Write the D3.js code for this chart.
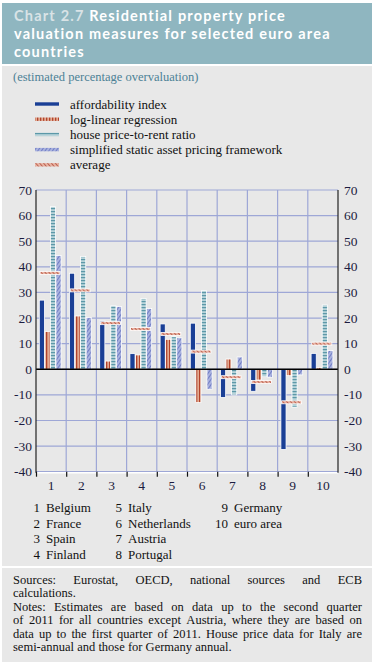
<!DOCTYPE html>
<html>
<head>
<meta charset="utf-8">
<script src="https://cdn.jsdelivr.net/npm/d3@7"></script>
<style>
  body { margin: 0; background: #fff; }
  svg text { font-family: "Liberation Serif", "Times New Roman", serif; }
  .title { font-family: Lato, "Open Sans", sans-serif !important; font-weight: bold; font-size: 14.5px; fill: #fff; letter-spacing: 1.2px; }
</style>
</head>
<body>
<div id="main"></div>
<script>
// data
const groups = ["1", "2", "3", "4", "5", "6", "7", "8", "9", "10"];
const countries = ["Belgium", "France", "Spain", "Finland", "Italy", "Netherlands", "Austria", "Portugal", "Germany", "euro area"];
const affordability = [27, 37.5, 19, 6.1, 17.7, 18, -11, -8.6, -31.3, 6.2];
const logLinear = [14.7, 20.8, 3.2, 5.6, 11.7, -13, 4.0, -4.2, -2.5, 0.7];
const priceToRent = [63.5, 44, 24.8, 27.6, 12.7, 30.7, -10, -2.9, -14.8, 25.1];
const assetPricing = [44.4, 20.2, 24.5, 23.7, 12.3, -7.8, 4.8, -3.1, -2.2, 7.3];
const average = [37.6, 30.8, 18, 15.7, 13.8, 6.9, -3.1, -5, -12.9, 10];
const yTicks = [70, 60, 50, 40, 30, 20, 10, 0, -10, -20, -30, -40];
const seriesNames = ["affordability index", "log-linear regression", "house price-to-rent ratio",
    "simplified static asset pricing framework", "average"];

// dimensions
const svg_width = 374, svg_height = 667;
const plot = {left: 36, right: 338, top: 190, bottom: 471.7};

var svg = d3.select("#main").append("svg")
    .attr("width", svg_width)
    .attr("height", svg_height);

// panels
svg.append("rect").attr("x", 2).attr("y", 3).attr("width", 370).attr("height", 61).attr("fill", "#8fb6c0");
svg.append("rect").attr("x", 2).attr("y", 66).attr("width", 370).attr("height", 500).attr("fill", "#e8e8e8");
svg.append("rect").attr("x", 2).attr("y", 568).attr("width", 370).attr("height", 94).attr("fill", "#e8e8e8");

// title
var titleLines = [["Chart 2.7 ", "Residential property price"], ["", "valuation measures for selected euro area"], ["", "countries"]];
titleLines.forEach(function(l, i) {
    var t = svg.append("text").attr("class", "title").attr("x", 14).attr("y", 21 + i * 18);
    if (l[0]) t.append("tspan").attr("fill", "#d9e3e6").text(l[0]);
    t.append("tspan").text(l[1]);
});
svg.append("text").attr("x", 13).attr("y", 81)
    .attr("font-size", 12.5).attr("fill", "#4c8196")
    .text("(estimated percentage overvaluation)");

// patterns
var defs = svg.append("defs");
var pRed = defs.append("pattern").attr("id", "pRed").attr("patternUnits", "userSpaceOnUse")
    .attr("width", 3).attr("height", 3);
pRed.append("rect").attr("width", 3).attr("height", 3).attr("fill", "#e2aa92");
pRed.append("rect").attr("x", 1).attr("width", 1.3).attr("height", 3).attr("fill", "#b2432b");
var pTeal = defs.append("pattern").attr("id", "pTeal").attr("patternUnits", "userSpaceOnUse")
    .attr("width", 6).attr("height", 3);
pTeal.append("rect").attr("width", 6).attr("height", 3).attr("fill", "#b9d4da");
pTeal.append("rect").attr("y", 1).attr("width", 6).attr("height", 1.2).attr("fill", "#5c98a8");
var pPurple = defs.append("pattern").attr("id", "pPurple").attr("patternUnits", "userSpaceOnUse")
    .attr("width", 3).attr("height", 3).attr("patternTransform", "rotate(35)");
pPurple.append("rect").attr("width", 3).attr("height", 3).attr("fill", "#a9b2de");
pPurple.append("rect").attr("width", 0.9).attr("height", 3).attr("fill", "#6c78c4");
var pAvg = defs.append("pattern").attr("id", "pAvg").attr("patternUnits", "userSpaceOnUse")
    .attr("width", 3).attr("height", 3).attr("patternTransform", "rotate(-40)");
pAvg.append("rect").attr("width", 3).attr("height", 3).attr("fill", "#e8b4a4");
pAvg.append("rect").attr("width", 0.9).attr("height", 3).attr("fill", "#b95a48");

var fills = ["#1a3f96", "url(#pRed)", "url(#pTeal)", "url(#pPurple)", "url(#pAvg)"];

// scales
var xScale = d3.scaleBand().domain(groups).range([plot.left, plot.right]);
var subScale = d3.scaleBand().domain([0, 1, 2, 3]).range([3.3, 25.5]);
var yScale = d3.scaleLinear().domain([-40, 70]).range([plot.bottom, plot.top]);

// grid
var grid = svg.append("g").attr("stroke", "#9ea7d6").attr("stroke-width", 1.2);
grid.selectAll(".hg").data(yTicks).enter().append("line")
    .attr("x1", plot.left).attr("x2", plot.right)
    .attr("y1", d => yScale(d)).attr("y2", d => yScale(d));
grid.selectAll(".vg").data(groups.slice(1)).enter().append("line")
    .attr("x1", d => xScale(d)).attr("x2", d => xScale(d))
    .attr("y1", plot.top).attr("y2", plot.bottom);

// bars
var seriesData = [affordability, logLinear, priceToRent, assetPricing];
seriesData.forEach(function(vals, s) {
    svg.append("g").selectAll("rect").data(vals).enter().append("rect")
        .attr("x", (d, i) => xScale(groups[i]) + subScale(s))
        .attr("width", subScale.bandwidth() - 0.4)
        .attr("y", d => yScale(Math.max(0, d)))
        .attr("height", d => Math.abs(yScale(d) - yScale(0)))
        .attr("fill", fills[s])
        .attr("stroke", "#fff").attr("stroke-width", 0.8);
});

// zero line & axes
svg.append("line").attr("x1", plot.left).attr("x2", plot.right)
    .attr("y1", yScale(0)).attr("y2", yScale(0)).attr("stroke", "#000").attr("stroke-width", 1.6);
svg.append("line").attr("x1", plot.left).attr("x2", plot.right)
    .attr("y1", plot.bottom + 1).attr("y2", plot.bottom + 1).attr("stroke", "#fff").attr("stroke-width", 1.5);
[plot.left, plot.right].forEach(function(x) {
    svg.append("line").attr("x1", x).attr("x2", x).attr("y1", plot.top).attr("y2", plot.bottom + 1)
        .attr("stroke", "#222").attr("stroke-width", 1.2);
});
svg.append("g").selectAll("line").data(groups).enter().append("line")
    .attr("x1", d => xScale(d) + 0.5).attr("x2", d => xScale(d) + 0.5)
    .attr("y1", plot.bottom).attr("y2", plot.bottom + 5)
    .attr("stroke", "#111").attr("stroke-width", 1.2);

// average markers
svg.append("g").selectAll("rect").data(average).enter().append("rect")
    .attr("x", (d, i) => xScale(groups[i]) + 4)
    .attr("width", 20)
    .attr("y", d => yScale(d) - 1.5)
    .attr("height", 3)
    .attr("fill", "url(#pAvg)")
    .attr("stroke", "#fff").attr("stroke-width", 0.8);

// y labels
svg.append("g").selectAll("text").data(yTicks).enter().append("text")
    .attr("x", 32).attr("y", d => yScale(d) + 4.5)
    .attr("text-anchor", "end").attr("font-size", 13.5).attr("fill", "#1c1c40")
    .text(d => d < 0 ? "-" + Math.abs(d) : d);
svg.append("g").selectAll("text").data(yTicks).enter().append("text")
    .attr("x", 344).attr("y", d => yScale(d) + 4.5)
    .attr("font-size", 13.5).attr("fill", "#1c1c40")
    .text(d => d < 0 ? "-" + Math.abs(d) : d);

// x labels
svg.append("g").selectAll("text").data(groups).enter().append("text")
    .attr("x", d => xScale(d) + xScale.bandwidth() / 2)
    .attr("y", 490)
    .attr("text-anchor", "middle").attr("font-size", 13.5).attr("fill", "#1c1c40")
    .text(d => d);

// legend
var legend = svg.append("g");
seriesNames.forEach(function(name, i) {
    var y = 104 + i * 15.2;
    legend.append("rect").attr("x", 35).attr("y", y - 1.7).attr("width", 24).attr("height", 3.4)
        .attr("fill", fills[i]);
    legend.append("text").attr("x", 70).attr("y", y + 4.5).attr("font-size", 13).attr("fill", "#111")
        .text(name);
});

// country key
var colX = [40, 122, 228];
countries.forEach(function(c, i) {
    var col = i < 4 ? 0 : (i < 8 ? 1 : 2);
    var row = i < 4 ? i : (i < 8 ? i - 4 : i - 8);
    var y = 512 + row * 15.5;
    svg.append("text").attr("x", colX[col]).attr("y", y).attr("text-anchor", "end")
        .attr("font-size", 13).attr("fill", "#111").text(groups[i]);
    svg.append("text").attr("x", colX[col] + 6).attr("y", y)
        .attr("font-size", 13).attr("fill", "#111").text(c);
});

// notes (justified by spreading words)
var notes = [
    ["Sources: Eurostat, OECD, national sources and ECB", true],
    ["calculations.", false],
    ["Notes: Estimates are based on data up to the second quarter", true],
    ["of 2011 for all countries except Austria, where they are based on", true],
    ["data up to the first quarter of 2011. House price data for Italy are", true],
    ["semi-annual and those for Germany annual.", false]
];
var noteLeft = 13, noteRight = 362;
notes.forEach(function(n, i) {
    var y = 584 + i * 13.4;
    if (!n[1]) {
        svg.append("text").attr("x", noteLeft).attr("y", y)
            .attr("font-size", 12.5).attr("fill", "#111").text(n[0]);
        return;
    }
    var words = n[0].split(" ");
    var nodes = words.map(w => svg.append("text").attr("y", y)
        .attr("font-size", 12.5).attr("fill", "#111").text(w));
    var widths = nodes.map(t => t.node().getComputedTextLength());
    var gap = (noteRight - noteLeft - d3.sum(widths)) / (words.length - 1);
    var x = noteLeft;
    nodes.forEach(function(t, k) {
        t.attr("x", x);
        x += widths[k] + gap;
    });
});
</script>
</body>
</html>
